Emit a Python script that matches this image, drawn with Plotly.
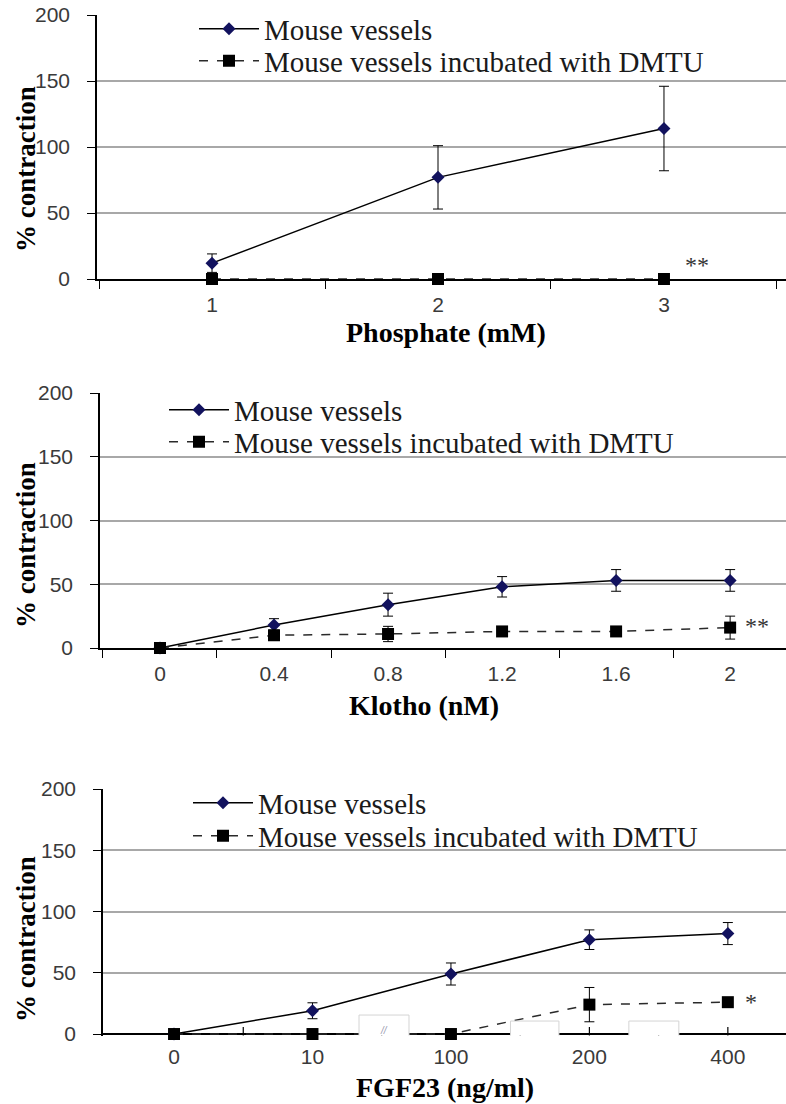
import plotly.graph_objects as go

W, H = 786, 1104

# ---------------- data ----------------
phosphate_labels = ["1", "2", "3"]
phosphate_mouse = [12, 77, 114]
phosphate_mouse_err = [7, 24, 32]
phosphate_dmtu = [0, 0, 0]
phosphate_dmtu_err = [None, None, None]

klotho_labels = ["0", "0.4", "0.8", "1.2", "1.6", "2"]
klotho_mouse = [0, 18, 34, 48, 53, 53]
klotho_mouse_err = [None, 5, 9, 8, 8.5, 8.5]
klotho_dmtu = [0, 10, 11, 13, 13, 16]
klotho_dmtu_err = [None, 4, 6, 3, 3, 9]

fgf23_labels = ["0", "10", "100", "200", "400"]
fgf23_mouse = [0, 19, 49, 77, 82]
fgf23_mouse_err = [None, 6.5, 9, 8, 9]
fgf23_dmtu = [0, 0, 0, 24, 26]
fgf23_dmtu_err = [None, None, None, 14, None]

series_names = ["Mouse vessels", "Mouse vessels incubated with DMTU"]
x_titles = ["Phosphate (mM)", "Klotho (nM)", "FGF23 (ng/ml)"]
y_title = "% contraction"
y_ticks = [0, 50, 100, 150, 200]

panels = [
    dict(labels=phosphate_labels, mouse=phosphate_mouse, mouse_err=phosphate_mouse_err,
         dmtu=phosphate_dmtu, dmtu_err=phosphate_dmtu_err),
    dict(labels=klotho_labels, mouse=klotho_mouse, mouse_err=klotho_mouse_err,
         dmtu=klotho_dmtu, dmtu_err=klotho_dmtu_err),
    dict(labels=fgf23_labels, mouse=fgf23_mouse, mouse_err=fgf23_mouse_err,
         dmtu=fgf23_dmtu, dmtu_err=fgf23_dmtu_err),
]

# ---------------- layout geometry (pixels) ----------------
geom = [
    dict(left=97, top=15, bottom=279, xr=[-0.509, 2.54], yr=[0, 200], ytitle=169,
         xtitle=(446, 333), leg_x=194, leg_rows=(29, 61), star="**", star_shift=33, star_y=10.6),
    dict(left=100, top=393, bottom=648, xr=[-0.526, 5.49], yr=[0, 200], ytitle=545,
         xtitle=(424, 705), leg_x=164, leg_rows=(410, 442), star="**", star_shift=27, star_y=17),
    dict(left=103, top=789, bottom=1035.5, xr=[-0.513, 4.42], yr=[-1.2, 200], ytitle=939,
         xtitle=(445, 1087), leg_x=188, leg_rows=(803, 836), star="*", star_shift=23, star_y=26),
]

SERIF = "Liberation Serif, Times New Roman, serif"
SANS = "Liberation Sans, Arial, sans-serif"
TICK_COLOR = "#3a3a3a"

fig = go.Figure()
layout = dict(
    width=W, height=H, margin=dict(l=0, r=0, t=0, b=0, autoexpand=False),
    paper_bgcolor="white", plot_bgcolor="white", showlegend=True,
)
annotations = []
shapes = []

for i, (p, g) in enumerate(zip(panels, geom)):
    n = i + 1
    xa = "x" if n == 1 else f"x{n}"
    ya = "y" if n == 1 else f"y{n}"
    leg_a = "legend" if i == 0 else f"legend{2 * i + 1}"
    leg_b = f"legend{2 * i + 2}"

    fig.add_trace(go.Scatter(
        x=p["labels"], y=p["mouse"], name=series_names[0],
        mode="lines+markers", xaxis=xa, yaxis=ya, legend=leg_a,
        line=dict(color="black", width=1.5),
        marker=dict(symbol="diamond", size=10, color="#12125e"),
        error_y=dict(type="data", array=p["mouse_err"], visible=True,
                     color="black", thickness=1, width=5),
        cliponaxis=False,
    ))
    fig.add_trace(go.Scatter(
        x=p["labels"], y=p["dmtu"], name=series_names[1],
        mode="lines+markers", xaxis=xa, yaxis=ya, legend=leg_b,
        line=dict(color="#2a2a2a", width=1.5, dash="dash"),
        marker=dict(symbol="square", size=12, color="black"),
        error_y=dict(type="data", array=p["dmtu_err"], visible=True,
                     color="black", thickness=1, width=5),
        cliponaxis=False,
    ))

    xdom = [g["left"] / W, 1.0]
    ydom = [1 - g["bottom"] / H, 1 - g["top"] / H]
    xkey = "xaxis" if n == 1 else f"xaxis{n}"
    ykey = "yaxis" if n == 1 else f"yaxis{n}"
    last = (n == 3)
    layout[xkey] = dict(
        type="category", domain=xdom, anchor=ya, range=g["xr"],
        showline=not last, linecolor="black", linewidth=1.5,
        ticks="" if last else "outside", tickson="boundaries", ticklen=8,
        tickcolor="black", tickwidth=1.2,
        tickfont=dict(family=SANS, size=21, color=TICK_COLOR),
        ticklabelstandoff=6,
        showgrid=False, zeroline=False, fixedrange=True,
    )
    layout[ykey] = dict(
        domain=ydom, anchor=xa, range=g["yr"], tickvals=y_ticks,
        showline=True, linecolor="black", linewidth=1.5,
        ticks="outside", ticklen=8, tickcolor="black", tickwidth=1.2,
        tickfont=dict(family=SANS, size=21, color=TICK_COLOR),
        ticklabelstandoff=13,
        showgrid=True, gridcolor="#a8a8a8", gridwidth=2,
        # in the last panel the zero line is the x axis line, so that the
        # axis-break boxes (shapes above traces) can cover it
        zeroline=last, zerolinecolor="black", zerolinewidth=1.5,
    )
    if not last:
        # inner half of the crossing tick marks
        okey = f"xaxis{n + 3}"
        layout[okey] = dict(
            type="category", overlaying=xa, anchor=ya, range=g["xr"],
            categoryorder="array", categoryarray=p["labels"],
            tickson="boundaries", ticks="inside", ticklen=8, tickcolor="black", tickwidth=1.2,
            showticklabels=False, showline=False, showgrid=False, zeroline=False,
        )
    for leg, row in ((leg_a, g["leg_rows"][0]), (leg_b, g["leg_rows"][1])):
        layout[leg] = dict(
            x=g["leg_x"] / W, xanchor="left", y=1 - row / H, yanchor="middle",
            bgcolor="rgba(0,0,0,0)", borderwidth=0, itemwidth=60,
            font=dict(family=SERIF, size=29, color="#1a1a1a"),
        )

    annotations.append(dict(
        text=f"<b>{y_title}</b>", textangle=-90, xref="paper", yref="paper",
        x=26 / W, y=1 - g["ytitle"] / H, xanchor="center", yanchor="middle",
        showarrow=False, font=dict(family=SERIF, size=27, color="black"),
    ))
    annotations.append(dict(
        text=f"<b>{x_titles[i]}</b>", xref="paper", yref="paper",
        x=g["xtitle"][0] / W, y=1 - g["xtitle"][1] / H, xanchor="center", yanchor="middle",
        showarrow=False, font=dict(family=SERIF, size=28, color="black"),
    ))
    annotations.append(dict(
        text=g["star"], xref=xa, yref=ya, x=len(p["labels"]) - 1, y=g["star_y"],
        xshift=g["star_shift"], xanchor="center", yanchor="middle", showarrow=False,
        font=dict(family=SERIF, size=24, color="#333333"),
    ))

# crossing tick marks of the FGF23 axis (as drawn in the original)
for cx in (0.5, 1.5, 2.5, 3, 3.5, 4):
    shapes.append(dict(type="line", xref="x3", yref="y3", x0=cx, x1=cx,
                       ysizemode="pixel", yanchor=0, y0=-7, y1=7,
                       line=dict(color="black", width=1.2), layer="above"))
# axis-break boxes on the FGF23 axis (between category positions)
break_boxes = [(1.336, 1.697, -9, 15.5), (2.43, 2.78, -14, 10.6), (3.285, 3.646, -14, 10.6)]
for x0, x1, y0, y1 in break_boxes:
    shapes.append(dict(type="rect", xref="x3", yref="y3", x0=x0, x1=x1, y0=y0, y1=y1,
                       line=dict(color="#d4d4d4", width=1), fillcolor="white", layer="above"))
    annotations.append(dict(text="<i>//</i>", xref="x3", yref="y3", x=(x0 + x1) / 2,
                            y=(y0 + y1) / 2, showarrow=False,
                            font=dict(family=SANS, size=10, color="#9a9ab0")))

layout["annotations"] = annotations
layout["shapes"] = shapes
fig.update_layout(**layout)

fig.write_html("out.html")
